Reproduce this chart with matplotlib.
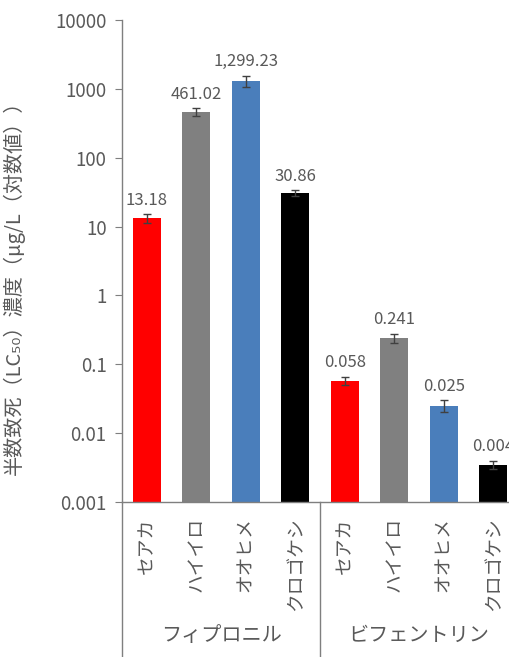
import numpy as np
import matplotlib.pyplot as plt

plt.rcParams['font.family'] = ['Noto Sans CJK JP', 'DejaVu Sans']

# data
species = ['セアカ', 'ハイイロ', 'オオヒメ', 'クロゴケシ',
           'セアカ', 'ハイイロ', 'オオヒメ', 'クロゴケシ']
groups = ['フィプロニル', 'ビフェントリン']
lc50 = [13.18, 461.02, 1299.23, 30.86, 0.058, 0.241, 0.025, 0.0035]
errs = [1.8, 60, 250, 3.0, 0.008, 0.035, 0.005, 0.0005]
value_labels = ['13.18', '461.02', '1,299.23', '30.86', '0.058', '0.241', '0.025', '0.004']
colors = ['#ff0000', '#808080', '#4a7ebb', '#000000'] * 2

txt = '#595959'
W, H = 509, 657
fig = plt.figure(figsize=(W/100, H/100), dpi=100)
ax = fig.add_axes([122/W, 155/H, 396/W, 482/H])

x = np.arange(len(lc50))
ax.bar(x, lc50, width=0.56, color=colors, zorder=2)
ax.errorbar(x, lc50, yerr=errs, fmt='none', ecolor='#404040',
            elinewidth=1, capsize=3, capthick=1, zorder=3)

for xi, v, e, lab in zip(x, lc50, errs, value_labels):
    ax.annotate(lab, (xi, v + e), xytext=(0, 4), textcoords='offset points',
                ha='center', va='bottom', fontsize=12, color=txt,
                annotation_clip=False)

ax.set_yscale('log')
ax.set_ylim(0.001, 10000)
ax.set_xlim(-0.5, 7.5)
ax.set_yticks([0.001, 0.01, 0.1, 1, 10, 100, 1000, 10000])
ax.set_yticklabels(['0.001', '0.01', '0.1', '1', '10', '100', '1000', '10000'])
ax.minorticks_off()
ax.tick_params(axis='y', colors='#7f7f7f', labelcolor=txt, labelsize=13.5,
               length=5, pad=6)

ax.set_xticks(x)
ax.set_xticklabels(species, rotation=90, fontsize=13.5, color=txt)
ax.tick_params(axis='x', length=0, pad=11)

for s in ['top', 'right']:
    ax.spines[s].set_visible(False)
for s in ['left', 'bottom']:
    ax.spines[s].set_color('#7f7f7f')
    ax.spines[s].set_linewidth(1)

# group separator lines below the axis
tr = ax.get_xaxis_transform()
for xv in [-0.5, 3.5]:
    ax.plot([xv, xv], [0, -0.33], transform=tr, color='#7f7f7f', lw=1, clip_on=False)
for gi, g in enumerate(groups):
    ax.text(1.5 + 4 * gi, -0.276, g, transform=tr, ha='center', va='center',
            fontsize=14.5, color=txt)

fig.text(0.028, 0.57, '半数致死（LC₅₀）濃度（µg/L（対数値））', rotation=90,
         ha='center', va='center', fontsize=14.5, color=txt)

fig.savefig('out.png', dpi=100)
